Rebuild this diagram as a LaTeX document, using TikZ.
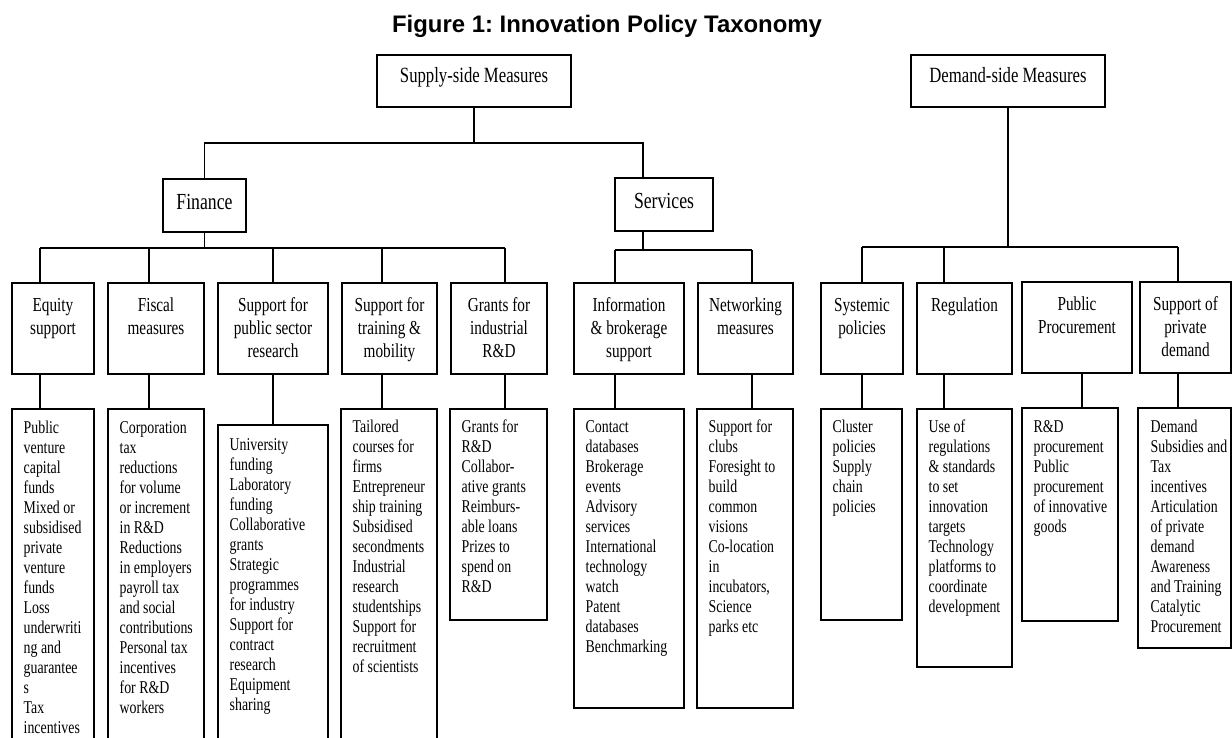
\documentclass[tikz,border=0pt]{standalone}
\usepackage{fontspec}
\setmainfont{Liberation Serif}[FakeStretch=0.77]
\newfontfamily\titlefont{Liberation Sans}
\usetikzlibrary{calc,positioning}
\tikzset{topbox/.style={rectangle,draw,line width=1.8pt,anchor=north west,inner sep=0pt,outer sep=0pt,minimum height=52pt,text height=12pt,text depth=8pt,font=\fontsize{21.7pt}{24pt}\selectfont}}
\tikzset{headbox/.style={rectangle,draw,line width=1.8pt,anchor=north west,inner sep=0pt,outer sep=0pt,minimum height=53pt,text height=15pt,text depth=7pt,font=\fontsize{23pt}{26pt}\selectfont}}
\tikzset{catbox/.style={rectangle,draw,line width=1.8pt,anchor=north west,inner sep=0pt,outer sep=0pt,minimum height=91pt}}
\tikzset{leafbox/.style={rectangle,draw,line width=1.8pt,anchor=north west,inner sep=0pt,outer sep=0pt}}
\tikzset{cattext/.style={anchor=base,inner sep=0pt,text width=130pt,align=flush center,font=\fontsize{19.8pt}{23pt}\selectfont}}
\tikzset{leaftext/.style={anchor=base west,inner sep=0pt,text width=120pt,align=flush left,font=\fontsize{18pt}{20pt}\selectfont}}
\tikzset{linest/.style={line width=1.8pt}}

\begin{document}
\begin{tikzpicture}[x=1pt,y=-1pt]
		\useasboundingbox (0,0) rectangle (1232,738);
		\clip (0,0) rectangle (1232,738);
		%%title
		\node at (607,33) [anchor=base,font=\titlefont\bfseries\frenchspacing\fontsize{23.9pt}{26pt}\selectfont] (title) {Figure 1: Innovation Policy Taxonomy};
		%%top level
		\node at (377,55) [topbox,minimum width=194pt] (supply) {Supply-side Measures};
		\node at (911,55) [topbox,minimum width=194pt] (demand) {Demand-side Measures};
		\node at (163,179) [headbox,minimum width=83pt] (finance) {Finance};
		\node at (615,178) [headbox,minimum width=98pt] (services) {Services};
		%%categories
		\node at (12,283) [catbox,minimum width=82pt] (eqC) {};
		\node at (108,283) [catbox,minimum width=96pt] (fiC) {};
		\node at (218,283) [catbox,minimum width=110pt] (puC) {};
		\node at (342,283) [catbox,minimum width=95pt] (trC) {};
		\node at (451,283) [catbox,minimum width=96pt] (grC) {};
		\node at (574,283) [catbox,minimum width=110pt] (inC) {};
		\node at (698,283) [catbox,minimum width=95pt] (neC) {};
		\node at (821,283) [catbox,minimum width=82pt] (syC) {};
		\node at (917,283) [catbox,minimum width=95pt] (reC) {};
		\node at (1022,282) [catbox,minimum width=110pt] (ppC) {};
		\node at (1140,282) [catbox,minimum width=91pt] (spC) {};
		\node at ([yshift=-29pt]eqC.north) [cattext] (eqCt) {Equity\\support};
		\node at ([yshift=-29pt]fiC.north) [cattext] (fiCt) {Fiscal\\measures};
		\node at ([yshift=-29pt]puC.north) [cattext] (puCt) {Support for\\public sector\\research};
		\node at ([yshift=-29pt]trC.north) [cattext] (trCt) {Support for\\training \&\\mobility};
		\node at ([yshift=-29pt]grC.north) [cattext] (grCt) {Grants for\\industrial\\R\&D};
		\node at ([yshift=-29pt]inC.north) [cattext] (inCt) {Information\\\& brokerage\\support};
		\node at ([yshift=-29pt]neC.north) [cattext] (neCt) {Networking\\measures};
		\node at ([yshift=-29pt]syC.north) [cattext] (syCt) {Systemic\\policies};
		\node at ([yshift=-29pt]reC.north) [cattext] (reCt) {Regulation};
		\node at ([yshift=-28pt]ppC.north) [cattext] (ppCt) {Public\\Procurement};
		\node at ([yshift=-28pt]spC.north) [cattext] (spCt) {Support of\\private\\demand};
		%%leaves
		\node at (12,409) [leafbox,minimum width=82pt,minimum height=360pt] (eqL) {};
		\node at (108,409) [leafbox,minimum width=96pt,minimum height=360pt] (fiL) {};
		\node at (218,425) [leafbox,minimum width=110pt,minimum height=360pt] (puL) {};
		\node at (341,409) [leafbox,minimum width=96pt,minimum height=360pt] (trL) {};
		\node at (450,409) [leafbox,minimum width=97pt,minimum height=211pt] (grL) {};
		\node at (574,409) [leafbox,minimum width=110pt,minimum height=299pt] (inL) {};
		\node at (697,409) [leafbox,minimum width=96pt,minimum height=299pt] (neL) {};
		\node at (821,409) [leafbox,minimum width=81pt,minimum height=211pt] (syL) {};
		\node at (917,409) [leafbox,minimum width=95pt,minimum height=258pt] (reL) {};
		\node at (1022,408) [leafbox,minimum width=96pt,minimum height=213pt] (ppL) {};
		\node at (1138,408) [leafbox,minimum width=93pt,minimum height=240pt] (spL) {};
		\node at ([xshift=11.5pt,yshift=-24pt]eqL.north west) [leaftext] (eqLt) {Public\\venture\\capital\\funds\\Mixed or\\subsidised\\private\\venture\\funds\\Loss\\underwriti\\ng and\\guarantee\\s\\Tax\\incentives};
		\node at ([xshift=11.5pt,yshift=-24pt]fiL.north west) [leaftext] (fiLt) {Corporation\\tax\\reductions\\for volume\\or increment\\in R\&D\\Reductions\\in employers\\payroll tax\\and social\\contributions\\Personal tax\\incentives\\for R\&D\\workers};
		\node at ([xshift=11.5pt,yshift=-25pt]puL.north west) [leaftext] (puLt) {University\\funding\\Laboratory\\funding\\Collaborative\\grants\\Strategic\\programmes\\for industry\\Support for\\contract\\research\\Equipment\\sharing};
		\node at ([xshift=11.5pt,yshift=-23pt]trL.north west) [leaftext] (trLt) {Tailored\\courses for\\firms\\Entrepreneur\\ship training\\Subsidised\\secondments\\Industrial\\research\\studentships\\Support for\\recruitment\\of scientists};
		\node at ([xshift=11.5pt,yshift=-23pt]grL.north west) [leaftext] (grLt) {Grants for\\R\&D\\Collabor-\\ative grants\\Reimburs-\\able loans\\Prizes to\\spend on\\R\&D};
		\node at ([xshift=11.5pt,yshift=-23pt]inL.north west) [leaftext] (inLt) {Contact\\databases\\Brokerage\\events\\Advisory\\services\\International\\technology\\watch\\Patent\\databases\\Benchmarking};
		\node at ([xshift=11.5pt,yshift=-23pt]neL.north west) [leaftext] (neLt) {Support for\\clubs\\Foresight to\\build\\common\\visions\\Co-location\\in\\incubators,\\Science\\parks etc};
		\node at ([xshift=11.5pt,yshift=-23pt]syL.north west) [leaftext] (syLt) {Cluster\\policies\\Supply\\chain\\policies};
		\node at ([xshift=11.5pt,yshift=-23pt]reL.north west) [leaftext] (reLt) {Use of\\regulations\\\& standards\\to set\\innovation\\targets\\Technology\\platforms to\\coordinate\\development};
		\node at ([xshift=11.5pt,yshift=-24pt]ppL.north west) [leaftext] (ppLt) {R\&D\\procurement\\Public\\procurement\\of innovative\\goods};
		\node at ([xshift=12.5pt,yshift=-24pt]spL.north west) [leaftext] (spLt) {Demand\\Subsidies and\\Tax\\incentives\\Articulation\\of private\\demand\\Awareness\\and Training\\Catalytic\\Procurement};
		%%supply-side links
		\coordinate (sbar) at (643,143);
		\draw [linest] (supply.south) -- (supply.south |- sbar);
		\draw [linest] (finance.north) |- (sbar) -- (sbar |- services.north);
		%%finance links
		\coordinate (f1) at (40,248);
		\coordinate (f2) at (149,248);
		\coordinate (f3) at (273,248);
		\coordinate (f4) at (382,248);
		\coordinate (f5) at (505,248);
		\draw [linest] (finance.south) -- (finance.south |- f1);
		\draw [linest] (f1) -- (f5);
		\draw [linest] (f1) -- (f1 |- eqC.north);
		\draw [linest] (f2) -- (f2 |- fiC.north);
		\draw [linest] (f3) -- (f3 |- puC.north);
		\draw [linest] (f4) -- (f4 |- trC.north);
		\draw [linest] (f5) -- (f5 |- grC.north);
		\draw [linest] (f1 |- eqC.south) -- (f1 |- eqL.north);
		\draw [linest] (f2 |- fiC.south) -- (f2 |- fiL.north);
		\draw [linest] (f3 |- puC.south) -- (f3 |- puL.north);
		\draw [linest] (f4 |- trC.south) -- (f4 |- trL.north);
		\draw [linest] (f5 |- grC.south) -- (f5 |- grL.north);
		%%services links
		\coordinate (s1) at (615,250);
		\coordinate (s2) at (752,250);
		\draw [linest] (sbar |- services.south) -- (sbar |- s1);
		\draw [linest] (s1) -- (s2);
		\draw [linest] (s1) -- (s1 |- inC.north);
		\draw [linest] (s2) -- (s2 |- neC.north);
		\draw [linest] (s1 |- inC.south) -- (s1 |- inL.north);
		\draw [linest] (s2 |- neC.south) -- (s2 |- neL.north);
		%%demand-side links
		\coordinate (d1) at (862,247);
		\coordinate (d2) at (944,247);
		\coordinate (d3) at (1178,247);
		\draw [linest] (demand.south) -- (demand.south |- d1);
		\draw [linest] (d1) -- (d3);
		\draw [linest] (d1) -- (d1 |- syC.north);
		\draw [linest] (d2) -- (d2 |- reC.north);
		\draw [linest] (d3) -- (d3 |- spC.north);
		\draw [linest] (d1 |- syC.south) -- (d1 |- syL.north);
		\draw [linest] (d2 |- reC.south) -- (d2 |- reL.north);
		\draw [linest] ([xshift=5pt]ppC.south) -- ([xshift=5pt]ppC.south |- ppL.north);
		\draw [linest] (d3 |- spC.south) -- (d3 |- spL.north);
	\end{tikzpicture}
\end{document}
